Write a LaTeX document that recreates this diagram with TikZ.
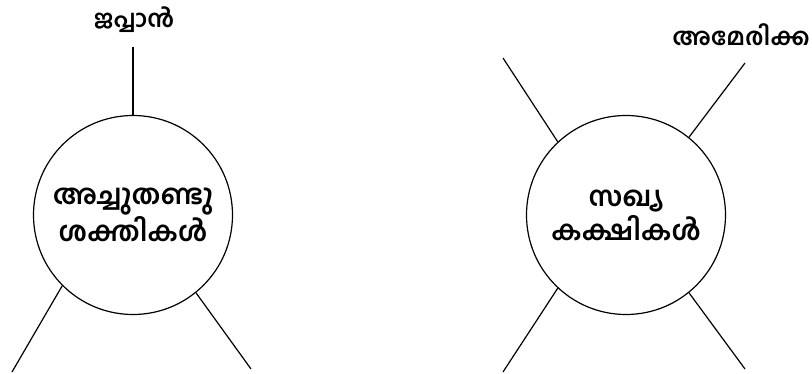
\documentclass[tikz,border=0pt]{standalone}
\usepackage{fontspec}
\usepackage{tikz}
\newfontfamily\malfont[Script=Malayalam]{Hind Kochi}

\begin{document}
\begin{tikzpicture}[x=1pt,y=-1pt,
  group/.style={circle,draw,line width=1.2pt,minimum size=199pt,inner sep=0pt,
    align=center,font=\malfont\bfseries\fontsize{27.5}{34}\selectfont},
  member/.style={font=\malfont\bfseries\fontsize{24}{28}\selectfont},
  spoke/.style={line width=1.2pt}]
  \useasboundingbox (0,0) rectangle (812,374);
  % the two groups
  \node[group] (axis) at (133,215) {അച്ചുതണ്ടു\\ശക്തികൾ};
  \node[group] (allies) at (626,215) {സഖ്യ\\കക്ഷികൾ};
  \node[member] (japan) at (134,20) {ജപ്പാൻ};
  \node[member] (usa) at (741,35) {അമേരിക്ക};
  % free ends of the spokes
  \coordinate (jp) at (133,47);
  \coordinate (axl) at (12,372);
  \coordinate (axr) at (251,369);
  \coordinate (alt) at (503,58);
  \coordinate (us) at (745,63);
  \coordinate (alb) at (503,372);
  \coordinate (arb) at (745,369);
  \draw[spoke] (axis.north) -- (jp);
  \draw[spoke] (axis.225) -- (axl);
  \draw[spoke] (axis.-51) -- (axr);
  \draw[spoke] (allies.133) -- (alt);
  \draw[spoke] (allies.51) -- (us);
  \draw[spoke] (allies.227) -- (alb);
  \draw[spoke] (allies.-51) -- (arb);
\end{tikzpicture}
\end{document}
